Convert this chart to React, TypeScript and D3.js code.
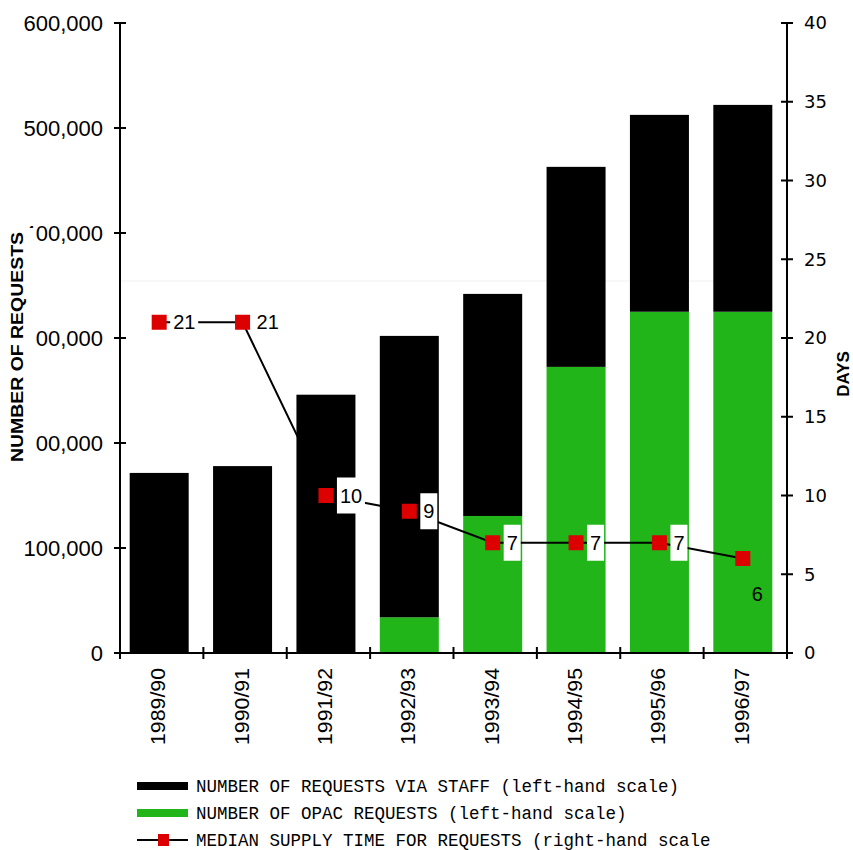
import React from 'react';
import * as d3 from 'd3';

// values
const years = ['1989/90', '1990/91', '1991/92', '1992/93', '1993/94', '1994/95', '1995/96', '1996/97'];
const opacRequests = [0, 0, 0, 34000, 130500, 272500, 325000, 325000];
const staffRequests = [171500, 178000, 246000, 268000, 211500, 190500, 187500, 197000];
const medianDays = [21, 21, 10, 9, 7, 7, 7, 6];
const leftTicks = [0, 100000, 200000, 300000, 400000, 500000, 600000];
const rightTicks = [0, 5, 10, 15, 20, 25, 30, 35, 40];

const legendItems = [
  'NUMBER OF REQUESTS VIA STAFF (left-hand scale)',
  'NUMBER OF OPAC REQUESTS (left-hand scale)',
  'MEDIAN SUPPLY TIME FOR REQUESTS (right-hand scale',
];

const GREEN = '#21b51a';
const RED = '#dd0000';
const SANS = '"Liberation Sans", Arial, Helvetica, sans-serif';
const MONO = '"Liberation Mono", "Courier New", monospace';

export default function App() {
  const width = 853;
  const height = 850;
  const left = 120;
  const right = 787;
  const top = 23;
  const bottom = 653;

  const x = d3.scaleBand<string>().domain(years).range([left, right]).padding(0);
  const step = x.step();
  const barW = 59;
  const cx = (c: string) => x(c)! + step / 2 - 2.5;

  const yL = d3.scaleLinear().domain([0, 600000]).range([bottom, top]);
  const yR = d3.scaleLinear().domain([0, 40]).range([bottom, top]);
  const fmt = d3.format(',');

  const rows = years.map((c, i) => ({ c, opac: opacRequests[i], staff: staffRequests[i] }));
  const stack = d3.stack<any>().keys(['opac', 'staff'])(rows);
  const colors: Record<string, string> = { opac: GREEN, staff: '#000' };

  const line = d3
    .line<number>()
    .x((_, i) => cx(years[i]))
    .y((d) => yR(d));

  const xTickPos = [...years.map((c) => x(c)!), right];

  return (
    <svg width={width} height={height} style={{ position: 'absolute', left: 0, top: 0, background: '#fff' }}>
      {/* faint guide */}
      <line x1={left} x2={770} y1={281} y2={281} stroke="#f0f0f0" strokeWidth={1} />

      {/* stacked bars */}
      {stack.map((layer) =>
        layer.map((d, i) => (
          <rect
            key={layer.key + i}
            x={cx(years[i]) - barW / 2}
            y={yL(d[1])}
            width={barW}
            height={Math.max(0, yL(d[0]) - yL(d[1]))}
            fill={colors[layer.key]}
          />
        ))
      )}

      {/* left axis */}
      <line x1={left} x2={left} y1={top} y2={bottom} stroke="#000" strokeWidth={2} />
      {leftTicks.map((t) => (
        <g key={'l' + t}>
          <line x1={left - 6} x2={left + 6} y1={yL(t)} y2={yL(t)} stroke="#000" strokeWidth={2} />
          <text x={103} y={yL(t)} dy="0.36em" textAnchor="end" fontFamily={SANS} fontSize={22}>
            {fmt(t)}
          </text>
        </g>
      ))}

      {/* right axis */}
      <line x1={right} x2={right} y1={top} y2={bottom} stroke="#000" strokeWidth={2} />
      {rightTicks.map((t) => (
        <g key={'r' + t}>
          <line x1={right - 6} x2={right + 6} y1={yR(t)} y2={yR(t)} stroke="#000" strokeWidth={2} />
          <text x={804} y={yR(t)} dy="0.36em" fontFamily='"DejaVu Sans", sans-serif' fontSize={18}>
            {t}
          </text>
        </g>
      ))}

      {/* x axis */}
      <line x1={left} x2={right} y1={bottom} y2={bottom} stroke="#000" strokeWidth={2} />
      {xTickPos.map((p, i) => (
        <line key={'xt' + i} x1={p} x2={p} y1={bottom - 6} y2={bottom + 6} stroke="#000" strokeWidth={2} />
      ))}
      {years.map((c) => (
        <text
          key={'xl' + c}
          transform={`translate(${cx(c) + 6},668) rotate(-90)`}
          textAnchor="end"
          fontFamily={SANS}
          fontSize={21}
          textLength={77}
          lengthAdjust="spacingAndGlyphs"
        >
          {c}
        </text>
      ))}

      {/* axis titles */}
      <rect x={4} y={228} width={32} height={238} fill="#fff" />
      <text
        transform="translate(23,347) rotate(-90)"
        textAnchor="middle"
        fontFamily={SANS}
        fontWeight="bold"
        fontSize={17}
        textLength={230}
        lengthAdjust="spacingAndGlyphs"
      >
        NUMBER OF REQUESTS
      </text>
      <text
        transform="translate(849,374) rotate(-90)"
        textAnchor="middle"
        fontFamily={SANS}
        fontWeight="bold"
        fontSize={17}
      >
        DAYS
      </text>

      {/* median supply time line */}
      <path d={line(medianDays)!} fill="none" stroke="#000" strokeWidth={2} />
      {medianDays.map((d, i) => {
        const px = cx(years[i]);
        const py = yR(d);
        const last = i === medianDays.length - 1;
        const label = String(d);
        const tw = label.length * 11;
        return (
          <g key={'m' + i}>
            <rect x={px - 7.5} y={py - 7.5} width={15} height={15} fill={RED} />
            {last ? (
              <text x={px + 9} y={py + 42} fontFamily={SANS} fontSize={20}>
                {label}
              </text>
            ) : (
              <g>
                <rect x={px + 11} y={py - 18} width={tw + 6} height={36} fill="#fff" />
                <text x={px + 14} y={py} dy="0.36em" fontFamily={SANS} fontSize={20}>
                  {label}
                </text>
              </g>
            )}
          </g>
        );
      })}

      {/* legend */}
      {legendItems.map((label, i) => {
        const ly = 786 + i * 27;
        return (
          <g key={'lg' + i}>
            {i === 2 ? (
              <g>
                <line x1={137} x2={188} y1={ly} y2={ly} stroke="#000" strokeWidth={2} />
                <rect x={158} y={ly - 6} width={11} height={12} fill={RED} />
              </g>
            ) : (
              <rect x={137} y={ly - 4} width={51} height={8} fill={i === 0 ? '#000' : GREEN} />
            )}
            <text x={196} y={ly} dy="0.33em" fontFamily={MONO} fontSize={17.5}>
              {label}
            </text>
          </g>
        );
      })}
    </svg>
  );
}
